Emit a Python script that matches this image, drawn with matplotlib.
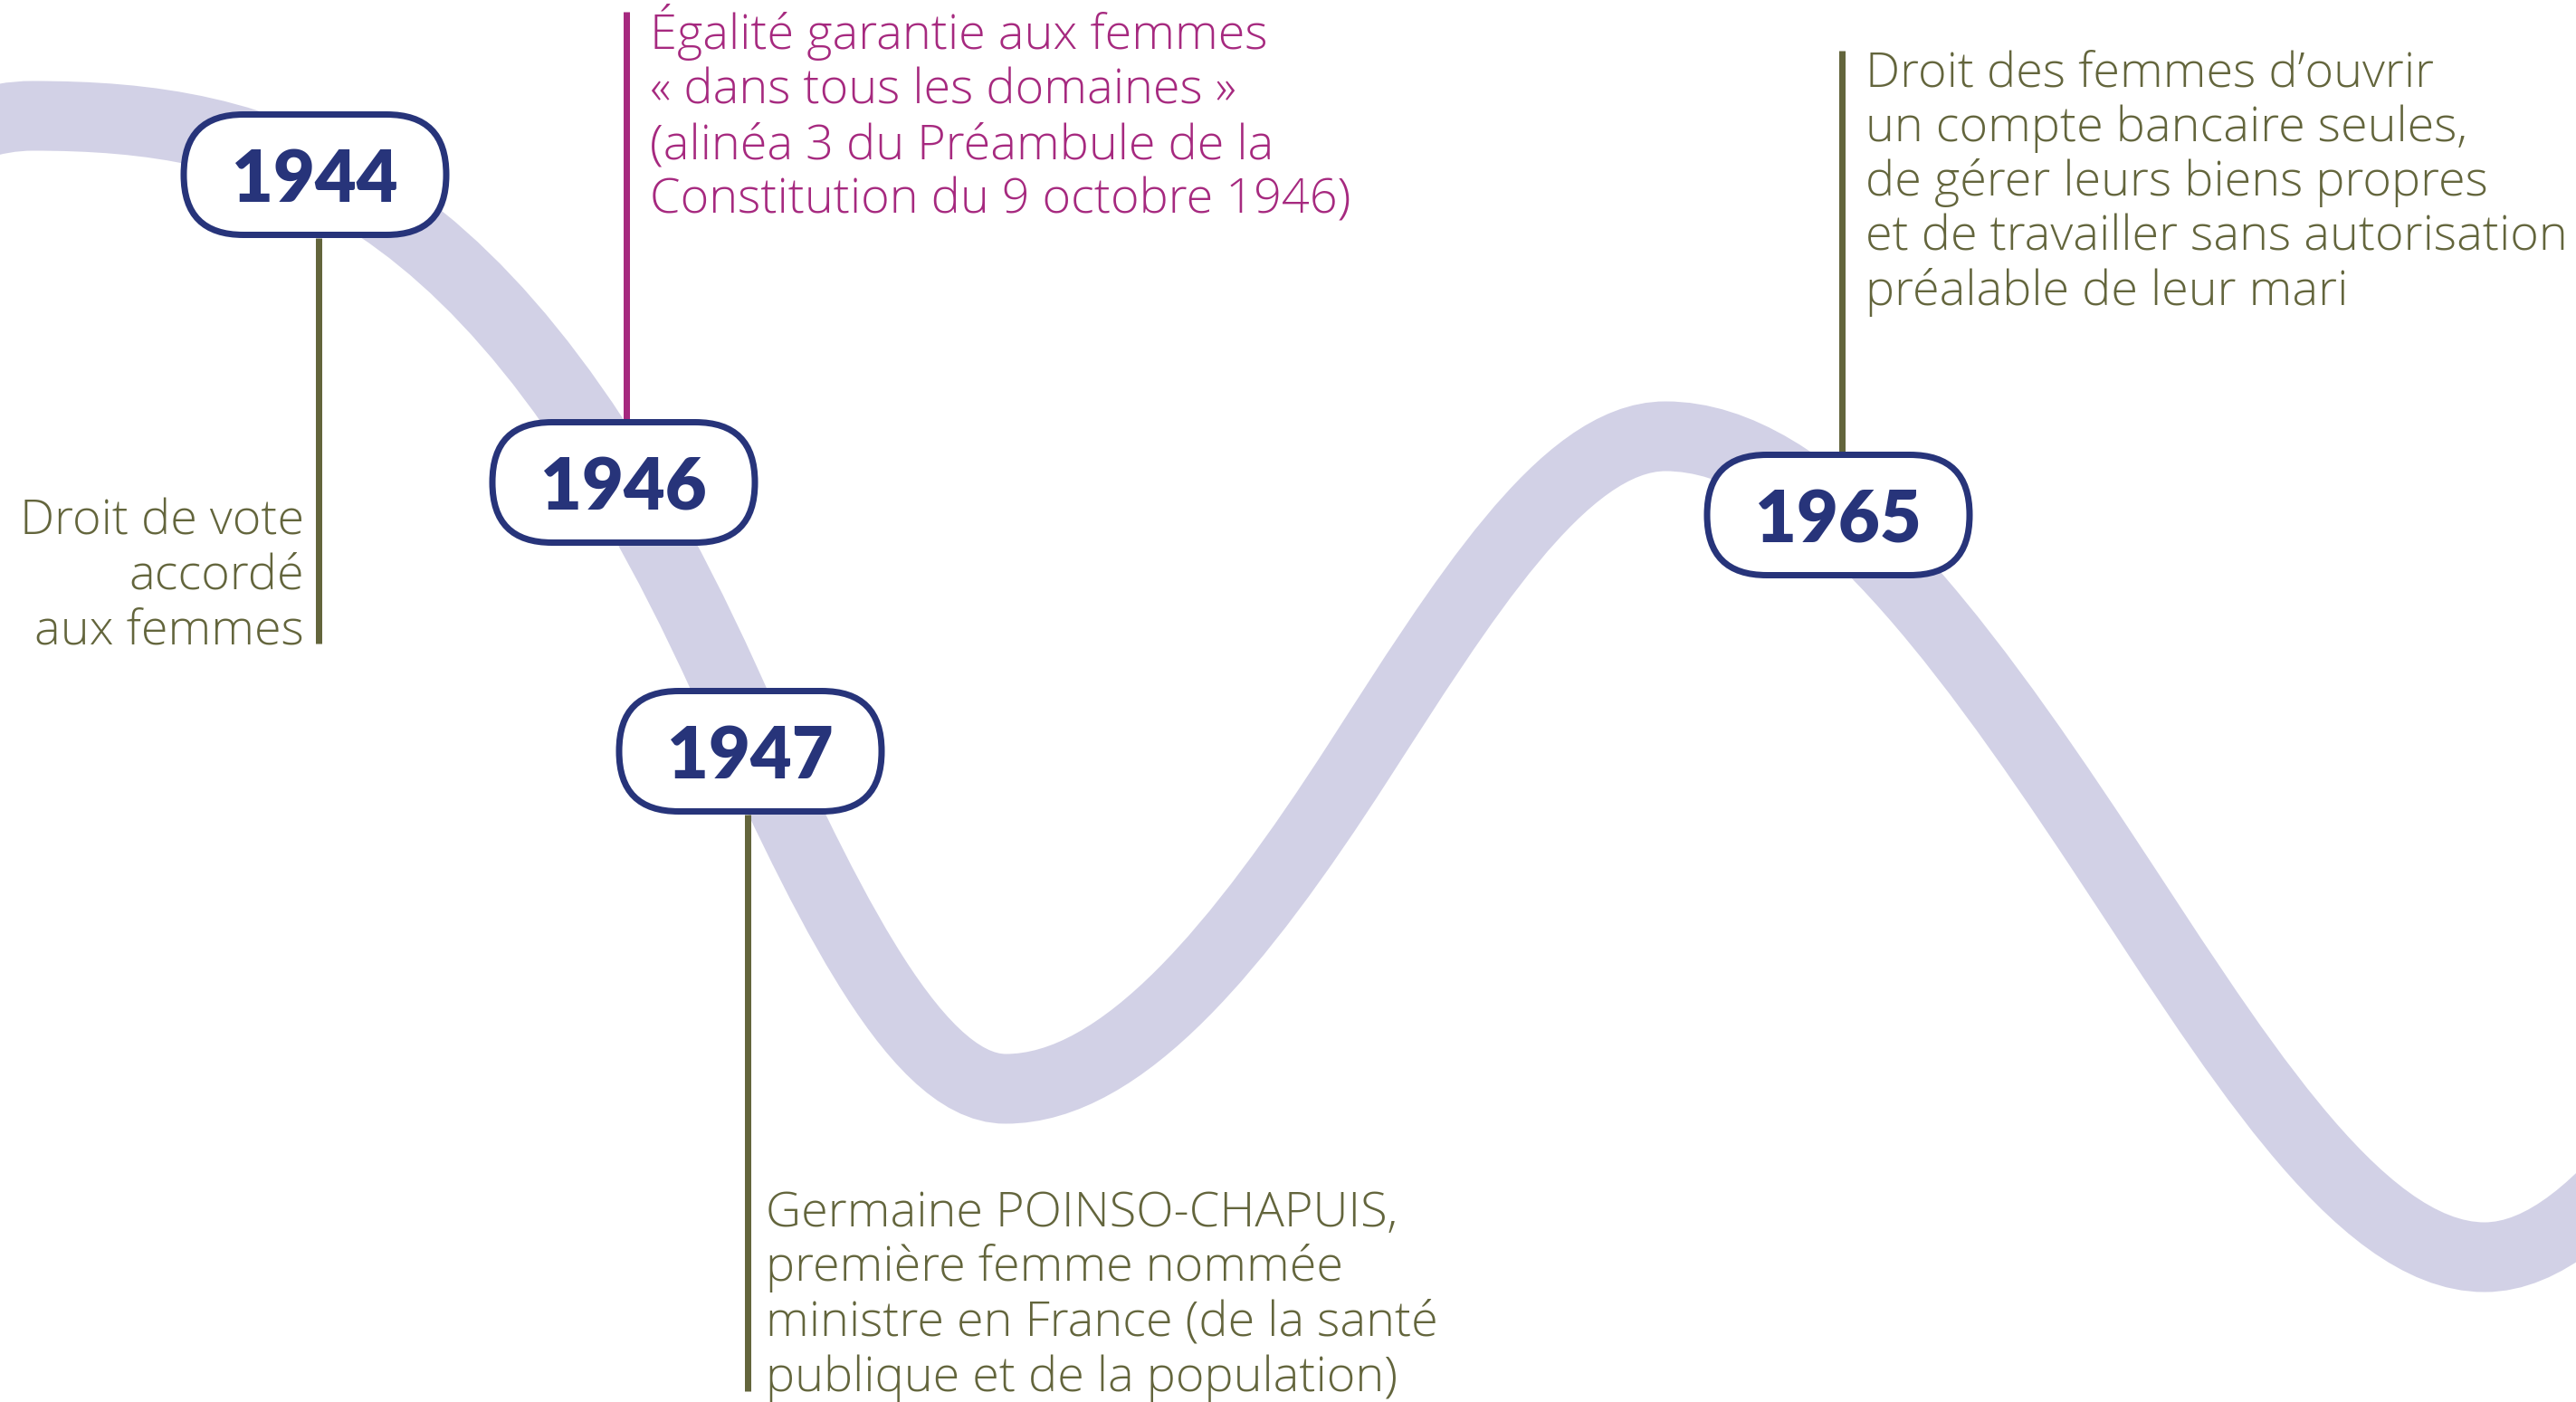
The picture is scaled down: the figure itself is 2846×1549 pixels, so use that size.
import numpy as np
import matplotlib.pyplot as plt
from matplotlib.path import Path
from matplotlib.patches import PathPatch, FancyBboxPatch

# --- data ---
years = ['1944', '1946', '1947', '1965']
events = [
    ["Droit de vote", "accordé", "aux femmes"],
    ["Égalité garantie aux femmes", "« dans tous les domaines »",
     "(alinéa 3 du Préambule de la", "Constitution du 9 octobre 1946)"],
    ["Germaine POINSO-CHAPUIS,", "première femme nommée",
     "ministre en France (de la santé", "publique et de la population)"],
    ["Droit des femmes d’ouvrir", "un compte bancaire seules,",
     "de gérer leurs biens propres", "et de travailler sans autorisation",
     "préalable de leur mari"],
]

# ribbon: crests, troughs and turning points (pixels, y down)
wave_x = [-1000, 36, 800, 1111, 1500, 1840, 2320, 2745, 3524]
wave_y = [1100, 128, 750, 1203, 843, 482, 937, 1389, 482]
wave_slope = [0, 0, 2.2, 0, -1.55, 0, 1.51, 0, 0]

# --- layout (pixels) ---
W, H = 2846, 1549
NAVY = '#27347A'
OLIVE = '#63653C'
MAGENTA = '#A6297F'
RIBBON = '#D2D1E6'
PX = 72 / 100  # points per pixel

badge_cx = [348, 689, 829, 2031]
badge_cy = [193, 533, 830, 569]
badge_w, badge_h = 290, 133

stem_x = [352, 692, 826, 2035]
stem_y = [(263, 711), (13, 463), (900, 1537), (56, 499)]
stem_col = [OLIVE, MAGENTA, OLIVE, OLIVE]

text_x = [336, 718, 846, 2061]
text_ha = ['right', 'left', 'left', 'left']
text_y0 = [590, 54, 1355, 95]
line_step = 60.5

FONT = 'Open Sans'

fig = plt.figure(figsize=(W / 100, H / 100), dpi=100)
ax = fig.add_axes([0, 0, 1, 1])
ax.set_xlim(0, W)
ax.set_ylim(H, 0)
ax.axis('off')

# ribbon as hermite pieces -> cubic bezier
verts = [(wave_x[0], wave_y[0])]
codes = [Path.MOVETO]
for i in range(len(wave_x) - 1):
    dx = (wave_x[i + 1] - wave_x[i]) / 3
    verts += [(wave_x[i] + dx, wave_y[i] + wave_slope[i] * dx),
              (wave_x[i + 1] - dx, wave_y[i + 1] - wave_slope[i + 1] * dx),
              (wave_x[i + 1], wave_y[i + 1])]
    codes += [Path.CURVE4] * 3
ax.add_patch(PathPatch(Path(verts, codes), facecolor='none', edgecolor=RIBBON,
                       lw=77 * PX, capstyle='butt', zorder=1))

# stems
for x, (y0, y1), c in zip(stem_x, stem_y, stem_col):
    ax.plot([x, x], [y0, y1], color=c, lw=7 * PX, solid_capstyle='butt', zorder=2)

# badges
for yr, cx, cy in zip(years, badge_cx, badge_cy):
    ax.add_patch(FancyBboxPatch((cx - badge_w / 2, cy - badge_h / 2), badge_w, badge_h,
                                boxstyle='round,pad=0,rounding_size=66',
                                facecolor='white', edgecolor=NAVY, lw=7 * PX, zorder=3))
    ax.text(cx, cy + 30, yr, ha='center', va='baseline', color=NAVY,
            fontsize=57, fontweight='heavy', family='Lato', zorder=4)

# event texts
for lines, x, ha, y0, c in zip(events, text_x, text_ha, text_y0, stem_col):
    for k, line in enumerate(lines):
        ax.text(x, y0 + k * line_step, line, ha=ha, va='baseline', color=c,
                fontsize=39, fontweight='light', family=FONT, zorder=4)

fig.savefig('out.png', dpi=100, facecolor='white')
